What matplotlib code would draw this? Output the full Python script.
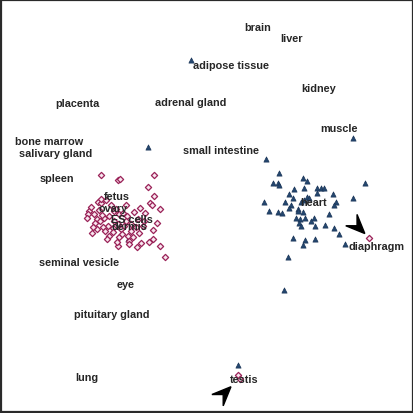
import numpy as np
import matplotlib
matplotlib.use('Agg')
import matplotlib.pyplot as plt
from matplotlib.patches import Polygon

# two map coordinates (screen-like units, y grows downward)
pink_x = [100, 117, 119, 153, 147, 153, 139, 149, 151, 159, 97, 100, 88, 87, 86,
          93, 96, 99, 103, 107, 112, 117, 123, 130, 137, 143, 152, 91, 108, 106,
          118, 127, 130, 128, 117, 128, 140, 148, 152, 159, 164, 108, 113, 118,
          100, 105, 90, 94, 110, 115, 122, 126, 133, 120, 125, 135, 102, 98, 112,
          144, 138, 132, 121, 113, 104, 96, 125, 142, 156, 116, 136, 101, 92,
          368, 237, 239]
pink_y = [175, 180, 179, 175, 187, 196, 207, 203, 205, 208, 202, 203, 210, 213, 217,
          213, 218, 220, 217, 225, 227, 223, 225, 223, 218, 220, 229, 232, 235, 238,
          236, 235, 230, 240, 245, 243, 242, 241, 238, 245, 256, 215, 210, 213,
          199, 200, 206, 222, 205, 208, 212, 215, 211, 228, 220, 226, 226, 209, 231,
          212, 232, 236, 233, 220, 230, 228, 205, 225, 222, 241, 246, 214, 226,
          237, 374, 378]

blue_x = [352, 265, 278, 272, 277, 278, 302, 306, 293, 303, 316, 320, 323, 316, 332,
          288, 292, 306, 308, 364, 352, 263, 284, 290, 288, 297, 300, 303, 335, 333,
          268, 277, 281, 297, 302, 295, 299, 304, 328, 298, 310, 313, 300, 314, 324,
          333, 338, 292, 304, 314, 302, 344, 287, 283, 147, 190, 237, 127]
blue_y = [138, 159, 173, 183, 183, 185, 178, 181, 189, 188, 188, 188, 188, 193, 194,
          194, 198, 197, 198, 183, 198, 202, 202, 205, 207, 208, 202, 200, 202, 205,
          210, 211, 212, 210, 211, 217, 218, 217, 213, 222, 220, 217, 225, 225, 224,
          227, 233, 237, 239, 238, 244, 243, 256, 289, 147, 60, 364, 238]

labels = ['brain', 'liver', 'adipose tissue', 'kidney', 'placenta', 'adrenal gland',
          'muscle', 'bone marrow', 'salivary gland', 'small intestine', 'spleen',
          'fetus', 'ovary', 'ES cells', 'dermis', 'heart', 'diaphragm',
          'seminal vesicle', 'eye', 'pituitary gland', 'lung', 'testis']
label_x = [243, 279, 192, 300, 54, 154, 319, 14, 18, 182, 38, 103, 97, 110, 110,
           299, 348, 38, 116, 73, 74, 229]
label_y = [27, 38, 65, 88, 103, 102, 128, 141, 153, 150, 178, 196, 207, 218, 225,
           202, 245, 261, 283, 313, 376, 378]

# arrowheads: tip point and pointing direction (degrees, counter-clockwise)
arrow_tip = [(364, 233), (230, 386)]
arrow_ang = [-45, 45]

fig = plt.figure(figsize=(4.14, 4.14), dpi=100)
ax = fig.add_axes([0.003, 0.003, 0.994, 0.994])
ax.set_xlim(0, 412)
ax.set_ylim(411, 0)
ax.set_xticks([])
ax.set_yticks([])
for s in ax.spines.values():
    s.set_linewidth(1.6)
    s.set_color('#2a2a2a')

ax.scatter(blue_x, blue_y, marker='^', s=14, c='#24476f', edgecolors='#1b3558',
           linewidths=0.5, zorder=2)
ax.scatter(pink_x, pink_y, marker='D', s=10, facecolors='#f8e6ef', edgecolors='#9a2358',
           linewidths=0.9, zorder=3)

for t, x, y in zip(labels, label_x, label_y):
    ax.text(x, y, t, fontsize=7.8, fontweight='bold', color='#262626',
            family='Liberation Sans', ha='left', va='center', zorder=4)

# dart shaped arrowheads
for (tx, ty), a in zip(arrow_tip, arrow_ang):
    r = np.deg2rad(a)
    d = np.array([np.cos(r), -np.sin(r)])
    n = np.array([-d[1], d[0]])
    tip = np.array([tx, ty])
    back = tip - 17 * d
    pts = [tip, back + 8 * n - 2 * d, tip - 11 * d, back - 8 * n - 2 * d]
    ax.add_patch(Polygon(pts, closed=True, color='black', zorder=5))

fig.savefig('out.png', dpi=100)
